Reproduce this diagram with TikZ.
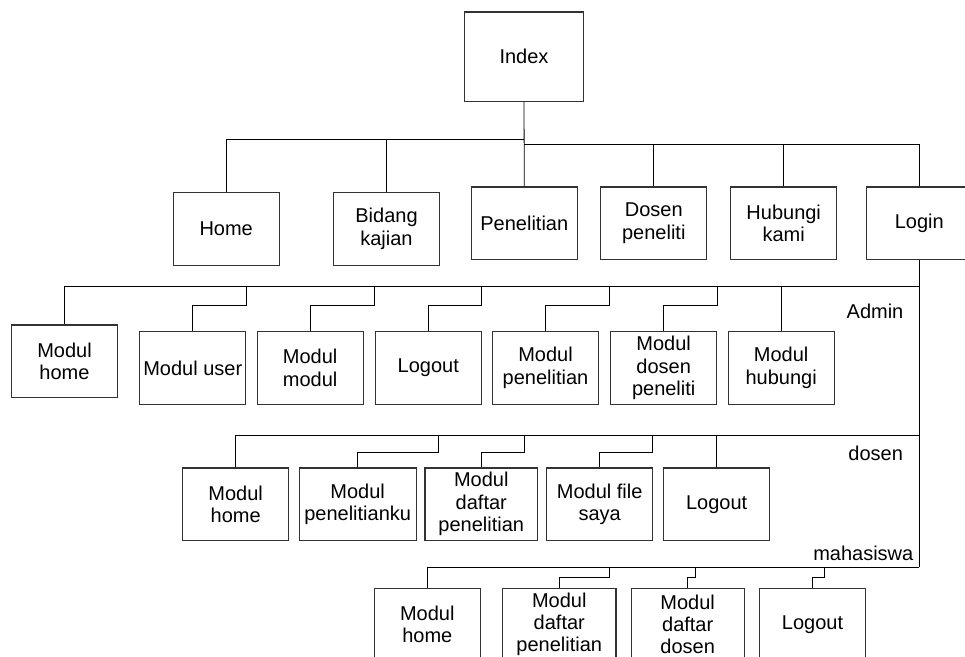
\documentclass[tikz,border=0pt]{standalone}
\usepackage{fontspec}
\setmainfont{Liberation Sans}
\begin{document}
\begin{tikzpicture}[x=0.75pt,y=-0.75pt,
  box/.style={draw=black!80,line width=0.8pt,inner sep=0pt,align=center,
    minimum width=79.5pt,minimum height=54.3pt,
    font=\fontsize{15}{16.8}\selectfont},
  wbox/.style={box,minimum width=#1},
  link/.style={draw=black,line width=0.6pt},
  tag/.style={font=\fontsize{15}{16.8}\selectfont,inner sep=0pt}]
\useasboundingbox (0,0) rectangle (965,657);
\clip (0,0) rectangle (965,657);

% top level
\node[box,minimum width=89.2pt,minimum height=66.8pt] (index) at (524,56.5) {Index};
\node[box] (home)       at (226.2,229)   {Home};
\node[box] (bidang)     at (386.5,229)   {Bidang\\kajian};
\node[box] (penelitian) at (524.3,223.2) {Penelitian};
\node[box] (dosen)      at (653.8,223.2) {Dosen\\peneliti};
\node[box] (hubungi)    at (783.7,223.2) {Hubungi\\kami};
\node[box] (login)      at (919.3,223.2) {Login};

% admin menu
\node[box] (ahome)   at (64.5,361.2)  {Modul\\home};
\node[box] (auser)   at (192.8,367.9) {Modul user};
\node[box] (amodul)  at (310.2,367.9) {Modul\\modul};
\node[box] (alogout) at (428.3,367.9) {Logout};
\node[box] (apenel)  at (545.5,367.9) {Modul\\penelitian};
\node[box] (adosen)  at (663.7,367.9) {Modul\\dosen\\peneliti};
\node[box] (ahub)    at (781.2,367.9) {Modul\\hubungi};

% dosen menu
\node[box] (dhome)   at (235.7,504.2) {Modul\\home};
\node[wbox=87.5pt] (dpenku)  at (357.7,504.2) {Modul\\penelitianku};
\node[wbox=84.5pt] (ddaftar) at (481.3,504.2) {Modul\\daftar\\penelitian};
\node[box] (dfile)   at (599.7,504.2) {Modul file\\saya};
\node[box] (dlogout) at (716.7,504.2) {Logout};

% mahasiswa menu
\node[box] (mhome)   at (427.3,624.3) {Modul\\home};
\node[wbox=85pt] (mdaftar) at (559.3,624.3) {Modul\\daftar\\penelitian};
\node[wbox=84.5pt] (mdosen)  at (687.7,624.3) {Modul\\daftar\\dosen};
\node[box] (mlogout) at (812.5,624.3) {Logout};

% role labels
\node[tag] (ladmin) at (875,311.7)   {Admin};
\node[tag] (ldosen) at (875.7,453.3) {dosen};
\node[tag] (lmhs)   at (863.3,553.3) {mahasiswa};

% bus junctions
\coordinate (t1) at (524,139.3);
\coordinate (t2) at (524,144);
\coordinate (ja) at (919.3,286);
\coordinate (jd) at (919.3,435.7);
\coordinate (jm) at (919.3,567.3);

% top level connectors
\draw[link] (index.south) -- (penelitian.north);
\draw[link] (t1) -| (home.north);
\draw[link] (bidang.north) -- (bidang.north |- t1);
\draw[link] (t2) -| (login.north);
\draw[link] (dosen.north) -- (dosen.north |- t2);
\draw[link] (hubungi.north) -- (hubungi.north |- t2);

% login trunk
\draw[link] (login.south) -- (jm);

% admin bus
\coordinate (a2) at (246.5,286);
\coordinate (a3) at (374.3,286);
\coordinate (a4) at (481.7,286);
\coordinate (a5) at (609.3,286);
\coordinate (a6) at (717.3,286);
\draw[link] (ja) -| (ahome.north);
\draw[link] (a2) -- ++(0,19.7) -| (auser.north);
\draw[link] (a3) -- ++(0,19.7) -| (amodul.north);
\draw[link] (a4) -- ++(0,19.7) -| (alogout.north);
\draw[link] (a5) -- ++(0,19.7) -| (apenel.north);
\draw[link] (a6) -- ++(0,19.7) -| (adosen.north);
\draw[link] (ahub.north) -- (ahub.north |- ja);

% dosen bus
\coordinate (d2) at (438.7,435.7);
\coordinate (d3) at (524.3,435.7);
\coordinate (d4) at (652.7,435.7);
\draw[link] (jd) -| (dhome.north);
\draw[link] (d2) -- ++(0,16.2) -| (dpenku.north);
\draw[link] (d3) -- ++(0,16.2) -| (ddaftar.north);
\draw[link] (d4) -- ++(0,16.4) -| (dfile.north);
\draw[link] (dlogout.north) -- (dlogout.north |- jd);

% mahasiswa bus
\coordinate (m2) at (609.7,567.3);
\coordinate (m3) at (695,567.3);
\coordinate (m4) at (824.3,567.3);
\draw[link] (jm) -| (mhome.north);
\draw[link] (m2) -- ++(0,10.5) -| (mdaftar.north);
\draw[link] (m3) -- ++(0,10) -| (mdosen.north);
\draw[link] (m4) -- ++(0,10) -| (mlogout.north);
\end{tikzpicture}
\end{document}
